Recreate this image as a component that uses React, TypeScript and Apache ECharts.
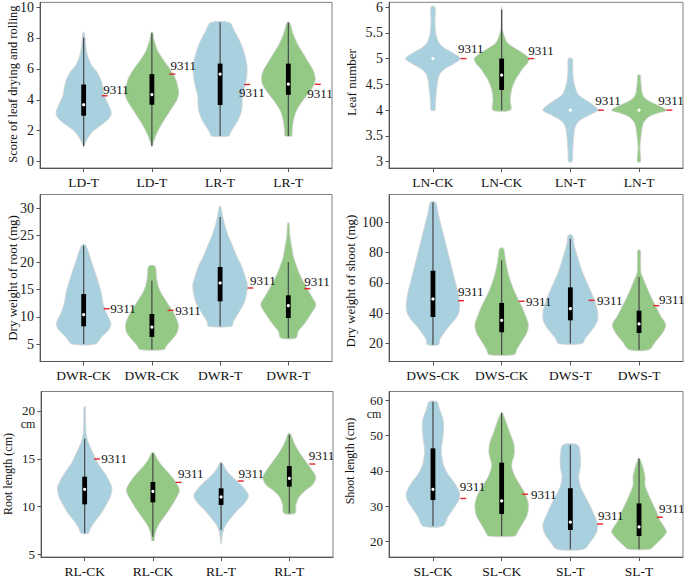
import React, { useEffect, useRef } from "react";
import * as echarts from "echarts";

// ---------------- DATA ----------------
// profiles: [value, relative half-width] from top to bottom
// boxes: [whiskerLow, q1, median, q3, whiskerHigh]
// refs: value of the 9311 mark

const p1Cats = ["LD-T", "LD-T", "LR-T", "LR-T"];
const p1Profiles = [
  [[8.34, 2], [7.8, 5], [7.0, 10], [6.3, 22], [5.8, 40], [5.3, 52], [4.8, 58], [4.3, 62], [3.8, 72], [3.3, 82], [3.0, 82], [2.7, 72], [2.3, 48], [1.9, 25], [1.5, 12], [1.2, 5], [1.0, 1]],
  [[8.34, 2], [7.85, 7], [7.2, 17], [6.56, 35], [6.13, 50], [5.7, 63], [5.27, 73], [4.84, 78], [4.4, 81], [3.98, 75], [3.55, 63], [3.12, 50], [2.69, 37], [2.26, 25], [1.83, 15], [1.4, 7], [1.0, 1]],
  [[9.0, 28], [8.5, 42], [7.85, 58], [7.2, 70], [6.56, 78], [6.13, 81], [5.48, 80], [4.84, 74], [4.19, 67], [3.55, 66], [3.12, 62], [2.69, 54], [2.26, 42], [1.83, 30], [1.66, 27]],
  [[9.0, 4], [8.3, 14], [7.63, 27], [6.99, 45], [6.34, 63], [5.8, 77], [5.27, 81], [4.84, 74], [4.4, 60], [3.98, 45], [3.55, 31], [3.12, 21], [2.47, 14], [1.83, 11], [1.66, 11]],
];
const p1Boxes = [[1.0, 2.97, 3.68, 4.99, 8.02], [1.0, 3.68, 4.34, 5.66, 8.34], [1.66, 3.66, 5.66, 6.34, 9.0], [1.66, 4.32, 5.01, 6.34, 9.0]];
const p1Refs = [4.26, 5.66, 4.99, 5.0];
const p1Ticks = [0, 2, 4, 6, 8, 10];

const p2Cats = ["LN-CK", "LN-CK", "LN-T", "LN-T"];
const p2Profiles = [
  [[6.0, 6], [5.7, 6], [5.5, 8], [5.4, 12], [5.3, 18], [5.2, 35], [5.1, 62], [5.0, 82], [4.9, 62], [4.8, 35], [4.7, 20], [4.6, 15], [4.4, 11], [4.2, 8], [4.0, 6]],
  [[6.0, 1], [5.6, 2], [5.5, 5], [5.4, 10], [5.3, 18], [5.2, 40], [5.1, 65], [5.0, 82], [4.9, 76], [4.8, 62], [4.7, 52], [4.6, 42], [4.4, 30], [4.2, 26], [4.0, 26]],
  [[5.0, 6], [4.8, 7], [4.6, 9], [4.45, 14], [4.3, 24], [4.2, 45], [4.1, 68], [4.0, 82], [3.9, 55], [3.8, 28], [3.7, 16], [3.6, 12], [3.4, 9], [3.2, 7], [3.0, 5]],
  [[4.68, 4], [4.58, 5], [4.45, 7], [4.32, 10], [4.23, 18], [4.16, 35], [4.1, 55], [4.0, 82], [3.94, 55], [3.87, 30], [3.77, 15], [3.68, 10], [3.55, 7], [3.42, 5], [3.29, 3], [3.16, 4], [3.0, 5]],
];
const p2Boxes = [[5, 5, 5, 5, 5], [4.0, 4.39, 4.68, 5.0, 5.95], [4, 4, 4, 4, 4], [4, 4, 4, 4, 4]];
const p2Refs = [5.0, 5.0, 4.0, 4.0];
const p2Ticks = [3, 3.5, 4, 4.5, 5, 5.5, 6];

const p3Cats = ["DWR-CK", "DWR-CK", "DWR-T", "DWR-T"];
const p3Profiles = [
  [[23.3, 5], [21.8, 15], [19.9, 25], [18.1, 35], [16.2, 45], [14.4, 53], [12.6, 58], [10.7, 68], [9.5, 78], [8.6, 82], [7.6, 75], [6.4, 55], [5.0, 35]],
  [[19.5, 4], [19.2, 11], [18.1, 13], [16.9, 15], [15.0, 23], [13.2, 40], [11.3, 60], [9.5, 75], [8.3, 80], [7.0, 75], [5.8, 60], [4.6, 43], [3.96, 37]],
  [[30.37, 2], [28.53, 8], [26.68, 15], [24.84, 25], [23.0, 38], [21.15, 50], [19.31, 65], [17.47, 75], [15.93, 82], [14.4, 80], [12.56, 72], [10.71, 55], [9.18, 40], [8.26, 35]],
  [[27.3, 2], [24.84, 5], [23.0, 10], [21.15, 15], [19.31, 25], [17.47, 37], [15.63, 53], [13.78, 70], [12.25, 83], [10.71, 70], [8.87, 50], [7.33, 30], [6.1, 23]],
];
const p3Boxes = [[5.0, 8.26, 10.4, 14.2, 23.1], [3.96, 6.29, 8.13, 10.53, 16.67], [8.26, 12.86, 16.24, 19.19, 28.4], [6.1, 9.79, 12.06, 13.97, 20.1]];
const p3Refs = [11.5, 11.2, 15.32, 15.2];
const p3Ticks = [5, 10, 15, 20, 25, 30];

const p4Cats = ["DWS-CK", "DWS-CK", "DWS-T", "DWS-T"];
const p4Profiles = [
  [[113.2, 8], [106.2, 15], [97.4, 25], [88.5, 35], [79.7, 45], [70.9, 55], [62.1, 65], [53.3, 75], [44.5, 80], [40.1, 77], [35.6, 65], [31.2, 48], [26.8, 33], [22.4, 20], [19.1, 17]],
  [[83.0, 4], [81.5, 8], [77.5, 10], [70.9, 15], [64.3, 22], [57.7, 32], [51.1, 45], [44.5, 60], [37.9, 72], [32.3, 80], [26.8, 75], [21.3, 60], [15.8, 45], [12.5, 38]],
  [[91.8, 4], [90.5, 8], [86.3, 10], [79.7, 18], [73.1, 27], [66.5, 37], [59.9, 50], [53.3, 63], [46.7, 75], [40.1, 82], [34.5, 80], [29.0, 65], [23.5, 45], [19.8, 35]],
  [[81.5, 4], [75.3, 5], [66.5, 6], [64.3, 10], [57.7, 22], [51.1, 35], [44.5, 50], [37.9, 65], [32.3, 80], [26.8, 70], [21.3, 50], [15.8, 30]],
];
const p4Boxes = [[19.1, 37.4, 49.3, 68.0, 113.2], [12.5, 27.3, 35.2, 46.7, 74.9], [19.8, 35.2, 42.9, 57.0, 89.2], [15.8, 26.8, 32.8, 41.6, 63.9]];
const p4Refs = [48.2, 47.8, 48.4, 44.9];
const p4Ticks = [20, 40, 60, 80, 100];

const p5Cats = ["RL-CK", "RL-CK", "RL-T", "RL-T"];
const p5Profiles = [
  [[20.45, 2], [18.7, 3], [17.5, 5], [16.6, 12], [15.6, 25], [14.5, 40], [13.5, 60], [12.6, 75], [11.9, 82], [11.0, 77], [10.2, 65], [9.3, 50], [8.4, 30], [7.7, 17], [7.2, 11]],
  [[15.64, 3], [14.87, 15], [14.17, 30], [13.48, 48], [12.6, 68], [11.73, 80], [10.86, 70], [9.99, 55], [9.12, 38], [8.24, 20], [7.55, 10], [6.85, 5], [6.43, 4]],
  [[14.59, 3], [13.83, 15], [13.13, 33], [12.43, 55], [11.73, 73], [11.1, 82], [10.34, 70], [9.64, 50], [8.94, 33], [8.24, 17], [7.55, 7], [6.85, 3], [6.15, 1]],
  [[17.66, 3], [16.62, 15], [15.57, 32], [14.7, 50], [13.83, 68], [13.06, 80], [12.26, 70], [11.73, 50], [11.03, 30], [10.16, 20], [9.29, 17]],
];
const p5Boxes = [[7.2, 10.23, 11.8, 13.13, 17.1], [6.85, 10.44, 11.59, 12.57, 15.57], [7.55, 10.16, 11.0, 11.91, 14.52], [9.29, 12.08, 12.95, 14.24, 17.49]];
const p5Refs = [14.98, 12.53, 12.67, 14.45];
const p5Ticks = [5, 10, 15, 20];

const p6Cats = ["SL-CK", "SL-CK", "SL-T", "SL-T"];
const p6Profiles = [
  [[59.5, 12], [57.2, 20], [55.3, 28], [53.4, 32], [49.6, 30], [45.9, 25], [42.1, 30], [39.3, 43], [36.5, 65], [33.6, 80], [31.8, 77], [29.9, 65], [27.1, 45], [24.4, 30]],
  [[56.4, 2], [53.4, 15], [50.6, 25], [47.8, 36], [44.9, 38], [41.6, 30], [38.8, 38], [36.0, 55], [33.2, 72], [30.4, 80], [27.5, 76], [24.7, 60], [22.8, 48], [21.6, 40]],
  [[47.3, 22], [44.0, 30], [41.2, 30], [38.4, 25], [35.5, 30], [32.7, 45], [29.9, 60], [27.1, 73], [24.7, 82], [22.4, 77], [20.0, 60], [17.9, 40]],
  [[43.5, 2], [41.2, 11], [38.4, 18], [36.0, 18], [34.1, 25], [31.3, 38], [28.5, 52], [26.1, 62], [24.2, 75], [22.8, 82], [20.9, 68], [19.1, 48], [17.9, 32]],
];
const p6Boxes = [[24.4, 31.76, 34.8, 46.35, 59.5], [21.6, 27.8, 31.5, 42.3, 56.4], [17.9, 23.3, 25.5, 35.1, 47.3], [17.9, 21.6, 24.2, 30.8, 43.5]];
const p6Refs = [32.2, 33.4, 25.0, 26.9];
const p6Ticks = [20, 30, 40, 50, 60];

// ---------------- LAYOUT / STYLE ----------------
const SERIF = "'Liberation Serif', 'Times New Roman', serif";
const BLUE = "#a9d0de";
const GREEN = "#94c885";
const FILLS = [BLUE, GREEN, BLUE, GREEN];
const HW_SCALE = 1 / 205;
const XPAD = 0.64;

type PanelLayout = {
  rect: [number, number, number, number];
  yRange: [number, number];
  title: string;
  titlePos: [number, number];
  titleSize: number;
  tickSize: number;
  labels: [number, number, number][]; // markStart, textDx, textDy (px)
};

const layouts: PanelLayout[] = [
  { rect: [40, 2, 292, 166], yRange: [-0.41, 10.3], title: "Score of leaf drying and rolling", titlePos: [12.5, 84], titleSize: 12.5, tickSize: 14,
    labels: [[18, 19.5, -6.5], [17.5, 18.5, -8.7], [24, 19, 8], [26.5, 19, 9]] },
  { rect: [389, 2, 294, 166], yRange: [2.878, 6.091], title: "Leaf number", titlePos: [351, 82.5], titleSize: 13, tickSize: 14,
    labels: [[27.5, 25, -10], [26.5, 26.5, -8.5], [27.5, 25, -9.3], [27.3, 19.3, -9.3]] },
  { rect: [40, 194.5, 292, 167], yRange: [1.78, 32.54], title: "Dry weight of root (mg)", titlePos: [12, 278], titleSize: 13, tickSize: 14,
    labels: [[20, 26.5, 0], [15.7, 23.3, 0], [27.3, 30, -7.5], [16, 16, -7.3]] },
  { rect: [389, 194.5, 294, 167], yRange: [7.97, 118.4], title: "Dry weight of shoot (mg)", titlePos: [350, 281], titleSize: 13, tickSize: 14,
    labels: [[25, 25, -8.7], [17, 24.3, 0], [18.3, 26.7, 0], [14.3, 20, -6]] },
  { rect: [41, 391.5, 292, 165.5], yRange: [4.72, 22.04], title: "Root length (cm)", titlePos: [8, 474], titleSize: 12, tickSize: 13,
    labels: [[9.3, 16.7, 0], [22.7, 25, -9], [16.7, 17.3, -7.7], [20, 19.3, -9]] },
  { rect: [389, 391.5, 294, 165.5], yRange: [15.68, 62.4], title: "Shoot length (cm)", titlePos: [349.5, 461], titleSize: 12, tickSize: 13,
    labels: [[27.3, 26.7, -11.7], [20.3, 29.3, 0], [26.7, 27.7, -8], [17.7, 20, -9]] },
];

const panelsData = [
  { cats: p1Cats, profiles: p1Profiles, boxes: p1Boxes, refs: p1Refs, ticks: p1Ticks },
  { cats: p2Cats, profiles: p2Profiles, boxes: p2Boxes, refs: p2Refs, ticks: p2Ticks },
  { cats: p3Cats, profiles: p3Profiles, boxes: p3Boxes, refs: p3Refs, ticks: p3Ticks },
  { cats: p4Cats, profiles: p4Profiles, boxes: p4Boxes, refs: p4Refs, ticks: p4Ticks },
  { cats: p5Cats, profiles: p5Profiles, boxes: p5Boxes, refs: p5Refs, ticks: p5Ticks },
  { cats: p6Cats, profiles: p6Profiles, boxes: p6Boxes, refs: p6Refs, ticks: p6Ticks },
];

function buildOption() {
  const grid: any[] = [];
  const xAxis: any[] = [];
  const yAxis: any[] = [];
  const series: any[] = [];
  const graphic: any[] = [];

  panelsData.forEach((d, k) => {
    const L = layouts[k];
    grid.push({
      left: L.rect[0], top: L.rect[1], width: L.rect[2], height: L.rect[3],
      show: true, borderColor: "#808080", borderWidth: 1, backgroundColor: "transparent",
    });
    xAxis.push({
      gridIndex: k, type: "value", min: 1 - XPAD, max: 4 + XPAD,
      axisLine: { show: true, onZero: false, lineStyle: { color: "#555", width: 1 } },
      axisTick: { show: true, customValues: [1, 2, 3, 4], length: 4, lineStyle: { color: "#555" } },
      axisLabel: {
        customValues: [1, 2, 3, 4],
        formatter: (v: number) => d.cats[Math.round(v) - 1] || "",
        color: "#111", fontSize: 13.5, fontFamily: SERIF, margin: 7,
      },
      splitLine: { show: false },
    });
    yAxis.push({
      gridIndex: k, type: "value", min: L.yRange[0], max: L.yRange[1],
      axisLine: { show: true, onZero: false, lineStyle: { color: "#555", width: 1 } },
      axisTick: { show: true, customValues: d.ticks, length: 3.5, lineStyle: { color: "#555" } },
      axisLabel: {
        customValues: d.ticks,
        formatter: (v: number) => String(v),
        color: "#222", fontSize: L.tickSize, fontFamily: SERIF, margin: 6,
      },
      splitLine: { show: false },
    });
    // violins, whiskers, boxes, medians
    series.push({
      type: "custom",
      xAxisIndex: k,
      yAxisIndex: k,
      silent: true,
      clip: false,
      z: 2,
      data: d.refs.map((r, i) => [i + 1, r]),
      renderItem: (params: any, api: any) => {
        const i = params.dataIndex;
        const x = i + 1;
        const prof = d.profiles[i];
        const pts: number[][] = [];
        for (const [v, w] of prof) pts.push(api.coord([x + w * HW_SCALE, v]));
        for (let j = prof.length - 1; j >= 0; j--) {
          const [v, w] = prof[j];
          pts.push(api.coord([x - w * HW_SCALE, v]));
        }
        const [lo, q1, med, q3, hi] = d.boxes[i];
        const c = api.coord([x, med]);
        const pLo = api.coord([x, lo]);
        const pHi = api.coord([x, hi]);
        const pQ1 = api.coord([x, q1]);
        const pQ3 = api.coord([x, q3]);
        const children: any[] = [
          { type: "polygon", shape: { points: pts, smooth: 0.3 }, style: { fill: FILLS[i], stroke: "#d4d4d4", lineWidth: 0.8 } },
        ];
        if (hi - lo > 1e-9) {
          children.push({ type: "line", shape: { x1: c[0], y1: pLo[1], x2: c[0], y2: pHi[1] }, style: { stroke: "#484848", lineWidth: 1.2 } });
        }
        if (q3 - q1 > 1e-9) {
          children.push({ type: "rect", shape: { x: c[0] - 2.4, y: pQ3[1], width: 4.8, height: pQ1[1] - pQ3[1] }, style: { fill: "#000" } });
        }
        children.push({ type: "circle", shape: { cx: c[0], cy: c[1], r: 1.6 }, style: { fill: "#fff" } });
        return { type: "group", children };
      },
    });
    // 9311 reference marks and labels, drawn above all violins
    series.push({
      type: "custom",
      xAxisIndex: k,
      yAxisIndex: k,
      silent: true,
      clip: false,
      z: 5,
      data: d.refs.map((r, i) => [i + 1, r]),
      renderItem: (params: any, api: any) => {
        const i = params.dataIndex;
        const r = api.coord([i + 1, d.refs[i]]);
        const [ms, tdx, tdy] = L.labels[i];
        return {
          type: "group",
          children: [
            { type: "line", shape: { x1: r[0] + ms, y1: r[1], x2: r[0] + ms + 6, y2: r[1] }, style: { stroke: "#e3262c", lineWidth: 1.4 } },
            {
              type: "text", x: r[0] + tdx, y: r[1] + tdy,
              style: { text: "9311", font: `13px ${SERIF}`, fill: "#111", align: "left", verticalAlign: "middle" },
            },
          ],
        };
      },
    });
    graphic.push({
      type: "text", x: L.titlePos[0], y: L.titlePos[1], rotation: Math.PI / 2,
      style: { text: L.title, font: `${L.titleSize}px ${SERIF}`, fill: "#111", align: "center", verticalAlign: "middle" },
    });
  });

  graphic.push({ type: "text", x: 28, y: 424, style: { text: "cm", font: `12px ${SERIF}`, fill: "#222", align: "center", verticalAlign: "middle" } });
  graphic.push({ type: "text", x: 374, y: 413.5, style: { text: "cm", font: `12px ${SERIF}`, fill: "#222", align: "center", verticalAlign: "middle" } });

  return {
    animation: false,
    backgroundColor: "#ffffff",
    grid, xAxis, yAxis, series, graphic,
  };
}

export default function App() {
  const ref = useRef<HTMLDivElement>(null);
  useEffect(() => {
    if (!ref.current) return;
    const chart = echarts.init(ref.current, undefined, { renderer: "svg" });
    chart.setOption(buildOption() as any);
    return () => chart.dispose();
  }, []);
  return <div ref={ref} style={{ position: "absolute", left: 0, top: 0, width: 685, height: 578 }} />;
}
